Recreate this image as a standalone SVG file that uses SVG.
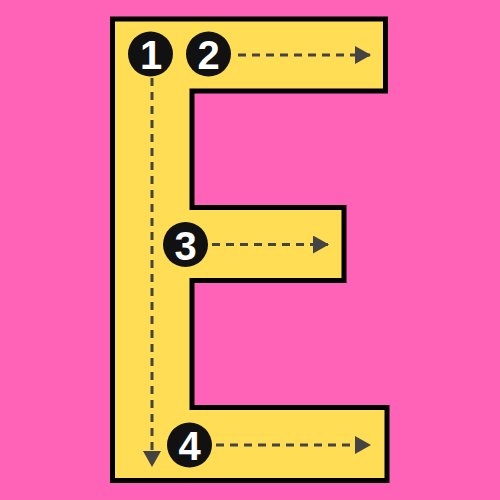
<svg xmlns="http://www.w3.org/2000/svg" width="500" height="500" viewBox="0 0 500 500">
<defs>
<style>
.num{fill:#111;}
.lbl{font-family:"Liberation Sans",Arial,sans-serif;font-weight:bold;font-size:40px;fill:#fff;text-anchor:middle;}
.path{stroke:#444;stroke-width:3;stroke-dasharray:8 6;fill:none;}
</style>
<marker id="ah" viewBox="0 0 16 18" refX="15" refY="9" markerWidth="16" markerHeight="18" markerUnits="userSpaceOnUse" orient="auto">
<path d="M0,0 L16,9 L0,18 Z" fill="#444"/>
</marker>
</defs>
<rect x="0" y="0" width="500" height="500" fill="#FF63B8"/>
<g id="letter-e">
<path d="M112.5,19 H385.5 V91 H192 V207.5 H344 V280.5 H192 V407.5 H387 V480.5 H112.5 Z" fill="#FFDD55" stroke="#000" stroke-width="5" stroke-linejoin="miter"/>
</g>
<g id="connectors">
<line class="path" x1="152" y1="78" x2="152" y2="466" marker-end="url(#ah)"/>
<line class="path" x1="238" y1="55" x2="370" y2="55" marker-end="url(#ah)"/>
<line class="path" x1="212" y1="244.5" x2="328" y2="244.5" marker-end="url(#ah)"/>
<line class="path" x1="216" y1="445" x2="370" y2="445" marker-end="url(#ah)"/>
</g>
<g id="step1"><circle class="num" cx="150.5" cy="54" r="22.5"/><text class="lbl" x="151" y="69">1</text></g>
<g id="step2"><circle class="num" cx="208.5" cy="54" r="22.5"/><text class="lbl" x="208.5" y="69">2</text></g>
<g id="step3"><circle class="num" cx="185.5" cy="244.5" r="22.5"/><text class="lbl" x="185.5" y="259.5">3</text></g>
<g id="step4"><circle class="num" cx="189.5" cy="445" r="22.5"/><text class="lbl" x="189.5" y="460">4</text></g>
</svg>
